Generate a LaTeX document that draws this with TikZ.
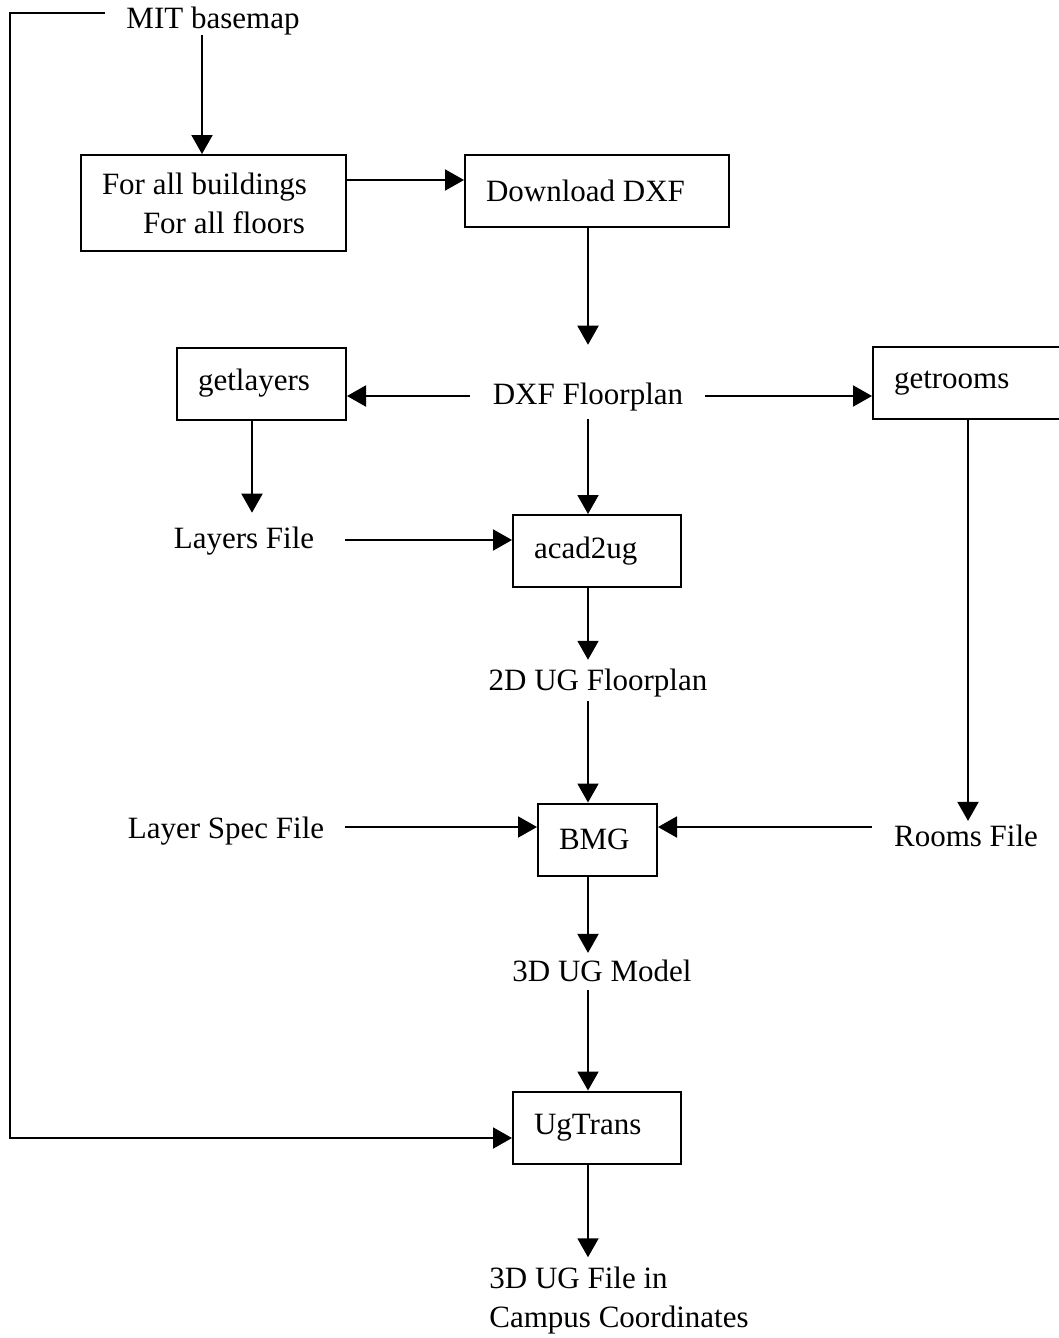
\documentclass[tikz,border=0pt]{standalone}
\usepackage{fontspec}
\setmainfont{Liberation Serif}
\usepackage{tikz}
\usetikzlibrary{arrows.meta}

\begin{document}
\begin{tikzpicture}[
    x=1pt, y=-1pt,
    font=\fontsize{31}{39}\selectfont,
    box/.style={draw, line width=2pt, inner xsep=21pt, align=flush left, minimum height=72pt},
    lbl/.style={inner sep=0pt},
    arrow/.style={-{Triangle[width=21pt,length=19pt]}, line width=2pt}
]
    \useasboundingbox (0,0) rectangle (1058,1338);

    % Basemap and loop
    \node[lbl] (base) at (213,21) {MIT basemap};
    \node[box, text width=223pt, minimum height=96pt] (bld) at (213.5,203) {For all buildings\\\hspace*{41pt}For all floors};
    \node[box, text width=222pt] (dl) at (597,191) {Download DXF};

    % Floorplan
    \node[lbl] (flr) at (588,397) {DXF Floorplan};
    \node[box, text width=127pt] (gl) at (261.5,383.5) {getlayers};
    \node[box, text width=158pt] (gr) at (973,383) {getrooms};
    \node[lbl] (lf) at (244,541) {Layers File};
    \node[box, text width=126pt] (acad) at (597,551) {acad2ug};
    \node[lbl] (ug2) at (598,683) {2D UG Floorplan};

    % Model
    \node[box, text width=77pt] (bmg) at (597.5,839.5) {BMG};
    \node[lbl] (spec) at (226,831) {Layer Spec File};
    \node[lbl] (rf) at (966,836) {Rooms File};
    \node[lbl] (ug3) at (602,971) {3D UG Model};

    % Transform
    \node[box, text width=126pt] (trans) at (597,1127.5) {UgTrans};
    \node[lbl, align=flush left] (out) at (619,1301) {3D UG File in\\Campus Coordinates};

    \coordinate (lft) at (10,13);

    % Arrows
    \draw[arrow] ([xshift=-11pt]base.south) -- ([xshift=-11pt]base.south |- bld.north);
    \draw[arrow] ([xshift=-21pt]base.west |- lft) -- (lft) |- ([yshift=-10.5pt]trans.west);
    \draw[arrow] ([yshift=23pt]bld.east) -- ([yshift=23pt]bld.east -| dl.west);
    \draw[arrow, shorten >=38pt] (dl.south -| flr) -- (flr.north);
    \draw[arrow, shorten <=23pt] ([yshift=1pt]flr.west) -- ([yshift=1pt]flr.west -| gl.east);
    \draw[arrow, shorten <=22pt] ([yshift=1pt]flr.east) -- ([yshift=1pt]flr.east -| gr.west);
    \draw[arrow, shorten >=14pt] ([xshift=-9.5pt]gl.south) -- ([xshift=-9.5pt]gl.south |- lf.north);
    \draw[arrow, shorten <=31pt] ([yshift=1pt]lf.east) -- ([yshift=1pt]lf.east -| acad.west);
    \draw[arrow, shorten <=8pt] (flr.south) -- (flr.south |- acad.north);
    \draw[arrow, shorten >=9pt] (acad.south -| flr) -- (flr |- ug2.north);
    \draw[arrow, shorten <=4pt] (flr |- ug2.south) -- (flr |- bmg.north);
    \draw[arrow, shorten <=21pt] ([yshift=4pt]spec.east) -- ([yshift=4pt]spec.east -| bmg.west);
    \draw[arrow, shorten <=22pt] ([yshift=9pt]rf.west) -- ([yshift=9pt]rf.west -| bmg.east);
    \draw[arrow, shorten >=4pt] ([xshift=-5pt]gr.south) -- ([xshift=-5pt]gr.south |- rf.north);
    \draw[arrow, shorten >=7pt] (flr |- bmg.south) -- (flr |- ug3.north);
    \draw[arrow, shorten <=8pt] (flr |- ug3.south) -- (flr |- trans.north);
    \draw[arrow, shorten >=10pt] (flr |- trans.south) -- (flr |- out.north);

\end{tikzpicture}
\end{document}
